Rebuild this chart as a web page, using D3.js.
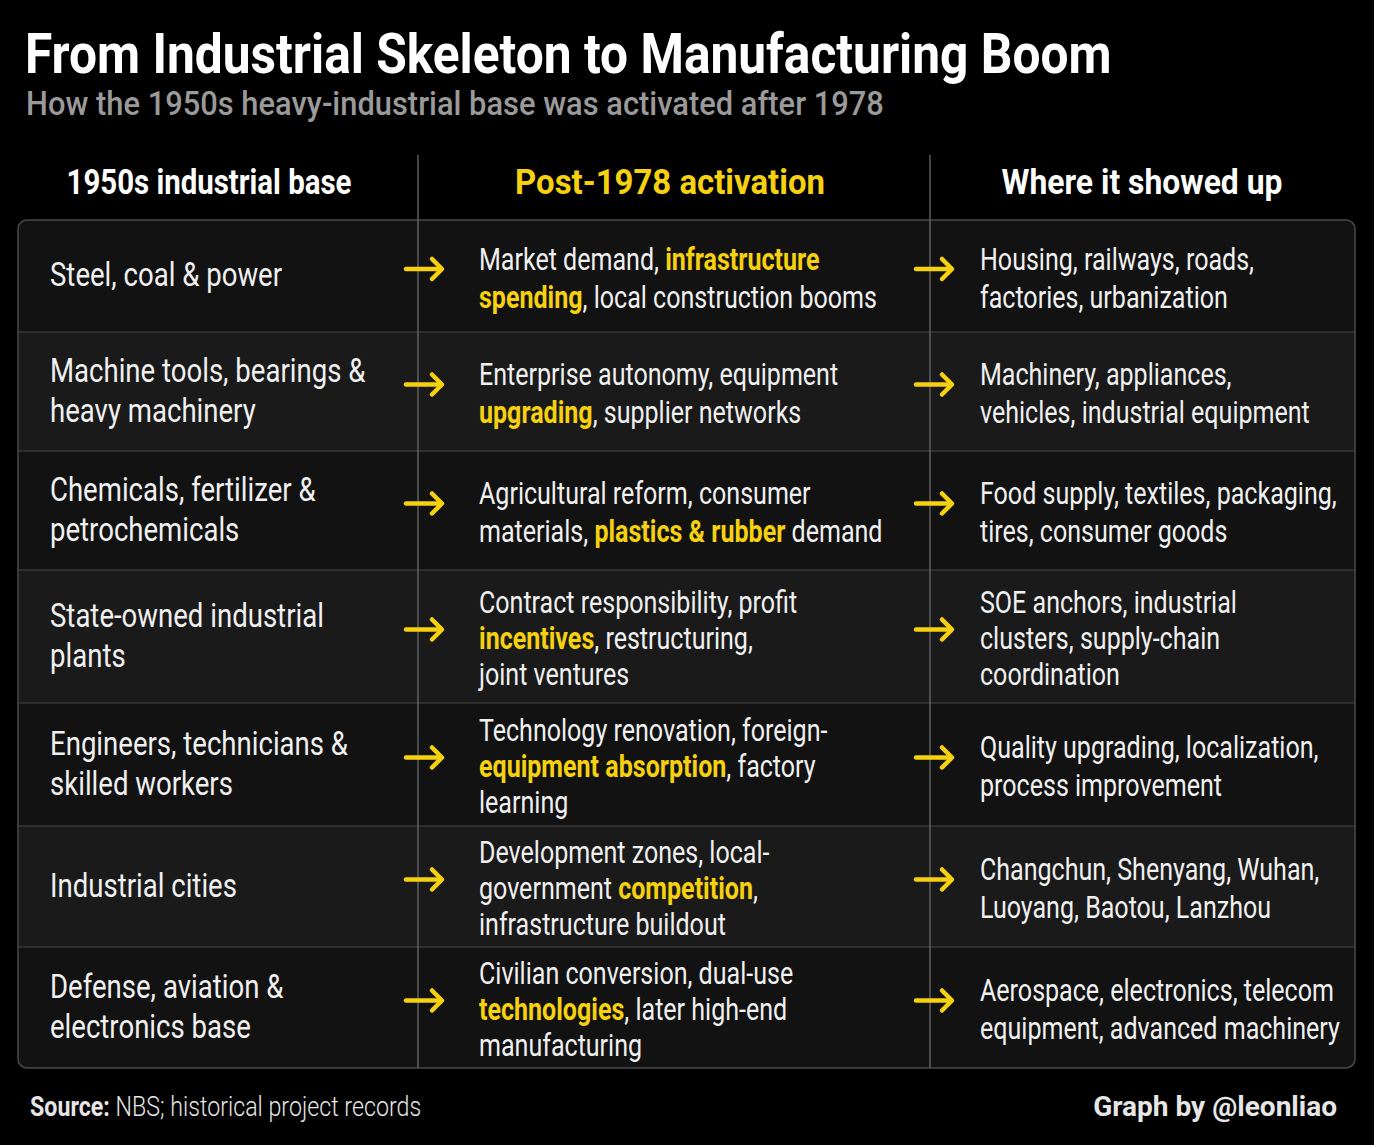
<!DOCTYPE html>
<html>
<head>
<meta charset="utf-8">
<script src="https://cdn.jsdelivr.net/npm/d3@7"></script>
<style>
  html, body { margin: 0; padding: 0; background: #000; }
  svg { display: block; }
  text { font-family: "Roboto", "Noto Sans", sans-serif; }
</style>
</head>
<body>
<svg id="chart" width="1374" height="1145"></svg>
<script>
// ---- data ----
const title = "From Industrial Skeleton to Manufacturing Boom";
const subtitle = "How the 1950s heavy-industrial base was activated after 1978";
const columnHeaders = ["1950s industrial base", "Post-1978 activation", "Where it showed up"];
// *text* marks a yellow highlighted phrase; | separates lines
const baseItems = [
  "Steel, coal & power",
  "Machine tools, bearings &|heavy machinery",
  "Chemicals, fertilizer &|petrochemicals",
  "State-owned industrial|plants",
  "Engineers, technicians &|skilled workers",
  "Industrial cities",
  "Defense, aviation &|electronics base"
];
const activationItems = [
  "Market demand, *infrastructure*|*spending*, local construction booms",
  "Enterprise autonomy, equipment|*upgrading*, supplier networks",
  "Agricultural reform, consumer|materials, *plastics & rubber* demand",
  "Contract responsibility, profit|*incentives*, restructuring,|joint ventures",
  "Technology renovation, foreign-|*equipment absorption*, factory|learning",
  "Development zones, local-|government *competition*,|infrastructure buildout",
  "Civilian conversion, dual-use|*technologies*, later high-end|manufacturing"
];
const outcomeItems = [
  "Housing, railways, roads,|factories, urbanization",
  "Machinery, appliances,|vehicles, industrial equipment",
  "Food supply, textiles, packaging,|tires, consumer goods",
  "SOE anchors, industrial|clusters, supply-chain|coordination",
  "Quality upgrading, localization,|process improvement",
  "Changchun, Shenyang, Wuhan,|Luoyang, Baotou, Lanzhou",
  "Aerospace, electronics, telecom|equipment, advanced machinery"
];
// relative row heights
const rowHeights = [112, 119, 119, 133, 123, 121, 121];
const sourceLabel = "Source:";
const sourceText = " NBS; historical project records";
const credit = "Graph by @leonliao";

// ---- layout ----
const W = 1374, H = 1145;
const YELLOW = "#f6d10f";
const svg = d3.select("#chart");
svg.append("rect").attr("width", W).attr("height", H).attr("fill", "#000");

// measure helper to emulate a condensed face (horizontal squeeze)
function measure(str, size, weight) {
  const t = svg.append("text").attr("font-size", size).attr("font-weight", weight).text(str);
  const w = t.node().getComputedTextLength();
  t.remove();
  return w;
}
const sxTitle = 1087 / measure(title, 56, 700);
const sxSub = 858 / measure(subtitle, 34, 500);
const headTargets = [285, 310, 281];
const sxHeads = columnHeaders.map((h, i) => headTargets[i] / measure(h, 35, 700));
const sxCol1 = 274 / measure("State-owned industrial", 34, 400);
const sxBody = 330 / measure("vehicles, industrial equipment", 32, 400);
const sxFoot = 244 / measure(credit, 28, 700);

function squeezed(x, y, sx) {
  return svg.append("g").attr("transform", `translate(${x},${y}) scale(${sx},1)`).append("text");
}

const tableLeft = 18, tableRight = 1355, tableTop = 220;
const colDiv = [418, 930];
const colTextX = [50, 479, 980];

// row scale
const cum = [0];
rowHeights.forEach(h => cum.push(cum[cum.length - 1] + h));
const yRow = d3.scaleLinear().domain([0, cum[cum.length - 1]]).range([tableTop, tableTop + cum[cum.length - 1]]);
const tableBottom = yRow(cum[cum.length - 1]);

// title
squeezed(25, 73, sxTitle).attr("fill", "#fff").attr("font-weight", 700).attr("font-size", 56).text(title);
squeezed(26, 115, sxSub).attr("fill", "#9a9a9a").attr("font-weight", 500).attr("font-size", 34).text(subtitle);

// headers
const headerCenters = [209, 670, 1142];
columnHeaders.forEach((h, i) => {
  squeezed(headerCenters[i], 194, sxHeads[i])
    .attr("text-anchor", "middle").attr("font-weight", 700).attr("font-size", 35)
    .attr("fill", i === 1 ? YELLOW : "#fff").text(h);
});

// table clip
const defs = svg.append("defs");
defs.append("clipPath").attr("id", "tclip").append("rect")
  .attr("x", tableLeft).attr("y", tableTop).attr("width", tableRight - tableLeft)
  .attr("height", tableBottom - tableTop).attr("rx", 9);

const g = svg.append("g").attr("clip-path", "url(#tclip)");
rowHeights.forEach((h, i) => {
  g.append("rect").attr("x", tableLeft).attr("y", yRow(cum[i]))
    .attr("width", tableRight - tableLeft).attr("height", yRow(cum[i + 1]) - yRow(cum[i]))
    .attr("fill", i % 2 === 0 ? "#121212" : "#1a1a1a");
  if (i > 0) {
    g.append("line").attr("x1", tableLeft).attr("x2", tableRight)
      .attr("y1", yRow(cum[i])).attr("y2", yRow(cum[i]))
      .attr("stroke", "#363636").attr("stroke-width", 1.5);
  }
});
svg.append("rect").attr("x", tableLeft).attr("y", tableTop)
  .attr("width", tableRight - tableLeft).attr("height", tableBottom - tableTop)
  .attr("rx", 9).attr("fill", "none").attr("stroke", "#4a4a4a").attr("stroke-width", 1.5);

// column dividers
colDiv.forEach(x => {
  svg.append("line").attr("x1", x).attr("x2", x).attr("y1", 155).attr("y2", tableBottom)
    .attr("stroke", "#6a6a6a").attr("stroke-width", 1.3);
});

function drawCell(str, x, yc, size, sx, lh2, lh3) {
  const lines = str.split("|");
  const lh = lines.length === 3 ? lh3 : lh2;
  const y0 = yc - (lines.length - 1) * lh / 2;
  lines.forEach((ln, li) => {
    const t = squeezed(x, y0 + li * lh, sx)
      .attr("dy", "0.36em").attr("font-size", size).attr("fill", "#f0f0f0");
    ln.split("*").forEach((p, pi) => {
      if (!p) return;
      const hl = pi % 2 === 1;
      t.append("tspan").text(p)
        .attr("fill", hl ? YELLOW : "#f0f0f0")
        .attr("font-weight", hl ? 700 : 400);
    });
  });
}

function drawArrow(x, y) {
  const a = svg.append("g").attr("stroke", YELLOW).attr("stroke-width", 4.5)
    .attr("fill", "none").attr("stroke-linecap", "round").attr("stroke-linejoin", "round");
  a.append("line").attr("x1", x).attr("x2", x + 35).attr("y1", y).attr("y2", y);
  a.append("polyline").attr("points", `${x + 26},${y - 10} ${x + 36},${y} ${x + 26},${y + 10}`);
}

rowHeights.forEach((h, i) => {
  const yc = (yRow(cum[i]) + yRow(cum[i + 1])) / 2;
  drawCell(baseItems[i], colTextX[0], yc - 2, 34, sxCol1, 40, 40);
  drawCell(activationItems[i], colTextX[1], yc + 1, 32, sxBody, 38, 36);
  drawCell(outcomeItems[i], colTextX[2], yc + 1, 32, sxBody, 38, 36);
  drawArrow(406, yc - 7);
  drawArrow(916, yc - 7);
});

// footer
const sxSrc = 395 / measure(sourceLabel + sourceText, 27, 400);
const ft = squeezed(30, 1116, sxSrc).attr("font-size", 27).attr("fill", "#e6e6e6");
ft.append("tspan").attr("font-weight", 700).text(sourceLabel);
ft.append("tspan").attr("font-weight", 300).text(sourceText);
squeezed(1337, 1116, sxFoot).attr("text-anchor", "end")
  .attr("font-size", 28).attr("font-weight", 700).attr("fill", "#e6e6e6").text(credit);
</script>
</body>
</html>
